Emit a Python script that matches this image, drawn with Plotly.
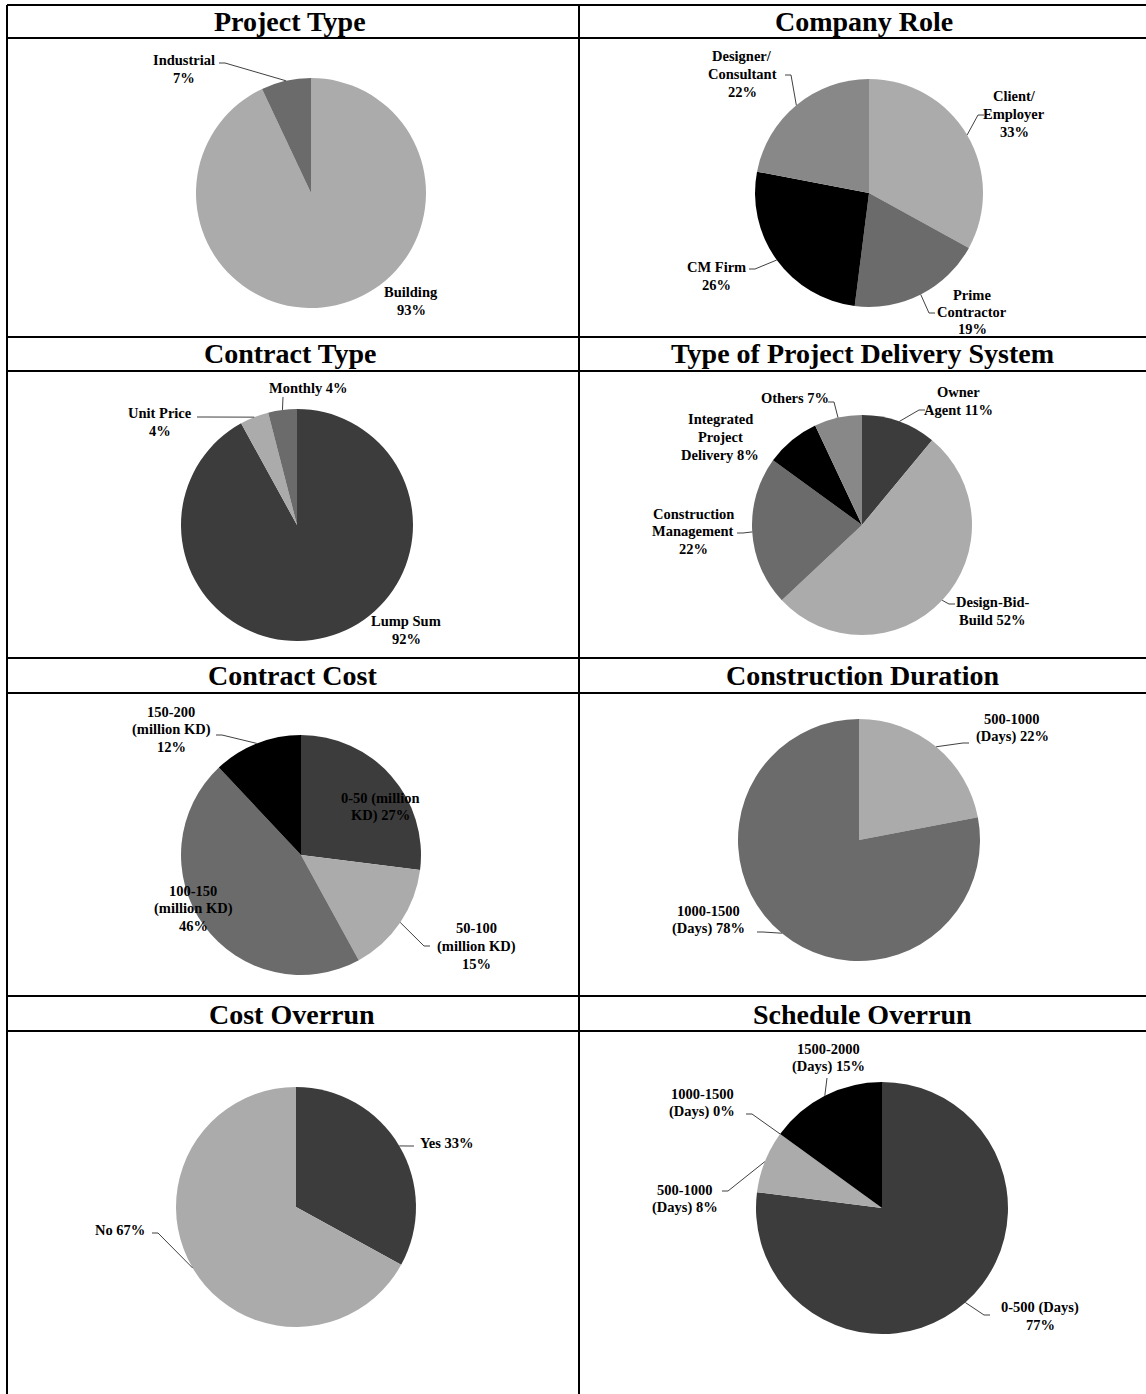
import math
import plotly.graph_objects as go

W, H = 1146, 1394

# ---------------- data ----------------
pt_labels = ["Building", "Industrial"]
pt_values = [93, 7]

cr_labels = ["Client/ Employer", "Prime Contractor", "CM Firm", "Designer/ Consultant"]
cr_values = [33, 19, 26, 22]

ct_labels = ["Lump Sum", "Unit Price", "Monthly"]
ct_values = [92, 4, 4]

pd_labels = ["Owner Agent", "Design-Bid-Build", "Construction Management",
             "Integrated Project Delivery", "Others"]
pd_values = [11, 52, 22, 8, 7]

cc_labels = ["0-50 (million KD)", "50-100 (million KD)", "100-150 (million KD)", "150-200 (million KD)"]
cc_values = [27, 15, 46, 12]

cd_labels = ["500-1000 (Days)", "1000-1500 (Days)"]
cd_values = [22, 78]

co_labels = ["Yes", "No"]
co_values = [33, 67]

so_labels = ["0-500 (Days)", "500-1000 (Days)", "1000-1500 (Days)", "1500-2000 (Days)"]
so_values = [77, 8, 0, 15]

titles = ["Project Type", "Company Role", "Contract Type", "Type of Project Delivery System",
          "Contract Cost", "Construction Duration", "Cost Overrun", "Schedule Overrun"]

# ---------------- styles / layout ----------------
LIGHT, MID, DARK, BLACK, GREY = "#ABABAB", "#6B6B6B", "#3C3C3C", "#000000", "#888888"

pies = [
    dict(labels=pt_labels, values=pt_values, colors=[LIGHT, MID], c=(311, 193), r=115,
         texts=[("Building<br>{v}%", 411, 301, None),
                ("Industrial<br>{v}%", 184, 69, (219, 63))]),
    dict(labels=cr_labels, values=cr_values, colors=[LIGHT, MID, BLACK, GREY], c=(869, 193), r=114,
         texts=[("Client/<br>Employer<br>{v}%", 1014, 114, (984, 115)),
                ("Prime<br>Contractor<br>{v}%", 972, 312, (935, 313)),
                ("CM Firm<br>{v}%", 716, 276, (749, 269)),
                ("Designer/<br>Consultant<br>{v}%", 742, 74, (785, 75))]),
    dict(labels=ct_labels, values=ct_values, colors=[DARK, LIGHT, MID], c=(297, 525), r=116,
         texts=[("Lump Sum<br>{v}%", 406, 630, None),
                ("Unit Price<br>{v}%", 160, 422, (197, 417)),
                ("Monthly {v}%", 308, 388, (283, 397))]),
    dict(labels=pd_labels, values=pd_values, colors=[DARK, LIGHT, MID, BLACK, GREY], c=(862, 525), r=110,
         texts=[("Owner<br>Agent {v}%", 958, 401, (925, 410)),
                ("Design-Bid-<br>Build {v}%", 992, 611, (955, 604)),
                ("Construction<br>Management<br>{v}%", 693, 531, (737, 533)),
                ("Integrated<br>Project<br>Delivery {v}%", 720, 437, None),
                ("Others {v}%", 795, 398, (828, 402))]),
    dict(labels=cc_labels, values=cc_values, colors=[DARK, LIGHT, MID, BLACK], c=(301, 855), r=120,
         texts=[("0-50 (million<br>KD) {v}%", 380, 807, None),
                ("50-100<br>(million KD)<br>{v}%", 476, 946, (430, 946)),
                ("100-150<br>(million KD)<br>{v}%", 193, 908, None),
                ("150-200<br>(million KD)<br>{v}%", 171, 729, (216, 735))]),
    dict(labels=cd_labels, values=cd_values, colors=[LIGHT, MID], c=(859, 840), r=121,
         texts=[("500-1000<br>(Days) {v}%", 1012, 728, (969, 743)),
                ("1000-1500<br>(Days) {v}%", 708, 920, (757, 932))]),
    dict(labels=co_labels, values=co_values, colors=[DARK, LIGHT], c=(296, 1207), r=120,
         texts=[("Yes {v}%", 447, 1143, (414, 1146)),
                ("No {v}%", 120, 1230, (152, 1233))]),
    dict(labels=so_labels, values=so_values, colors=[DARK, LIGHT, MID, BLACK], c=(882, 1208), r=126,
         texts=[("0-500 (Days)<br>{v}%", 1040, 1316, (990, 1315)),
                ("500-1000<br>(Days) {v}%", 685, 1199, (722, 1191)),
                ("1000-1500<br>(Days) {v}%", 702, 1103, (746, 1114)),
                ("1500-2000<br>(Days) {v}%", 828, 1058, (827, 1078))]),
]

title_pos = [(290, 22), (864, 22), (290, 354), (862, 354),
             (292, 676), (862, 676), (292, 1014), (862, 1014)]

col_x = [7, 579]
row_y = [5, 38, 337, 371, 658, 693, 996, 1031]

FONT = "Liberation Serif, Times New Roman, serif"
LINE_GAP = 17.5


def px(x):
    return x / W


def py(y):
    return 1 - y / H


fig = go.Figure()
annotations = []
shapes = []

for p in pies:
    cx, cy = p["c"]
    r = p["r"]
    fig.add_trace(go.Pie(
        labels=p["labels"], values=p["values"], sort=False, direction="clockwise", rotation=0,
        marker=dict(colors=p["colors"], line=dict(width=0)),
        textinfo="none", hoverinfo="label+percent", showlegend=False,
        domain=dict(x=[px(cx - r), px(cx + r)], y=[py(cy + r), py(cy - r)]),
    ))
    total = sum(p["values"])
    cum = 0
    for v, (tmpl, tx, ty, att) in zip(p["values"], p["texts"]):
        mid = (cum + v / 2) / total * 2 * math.pi
        cum += v
        lines = tmpl.format(v=v).split("<br>")
        n = len(lines)
        for i, line in enumerate(lines):
            ly = ty + (i - (n - 1) / 2) * LINE_GAP
            annotations.append(dict(
                x=px(tx), y=py(ly), xref="paper", yref="paper", showarrow=False,
                text=line, xanchor="center", yanchor="middle",
                font=dict(family=FONT, size=14.5, color="black", weight="bold"),
            ))
        if att is not None:
            ex = cx + r * math.sin(mid)
            ey = cy - r * math.cos(mid)
            ax, ay = att
            dx = ex - ax
            kx = ax + (6 if dx > 0 else -6) if abs(dx) > 8 else ax
            path = f"M {px(ax)} {py(ay)} L {px(kx)} {py(ay)} L {px(ex)} {py(ey)}"
            shapes.append(dict(type="path", xref="paper", yref="paper", path=path,
                               line=dict(color="#404040", width=1)))

for t, (tx, ty) in zip(titles, title_pos):
    annotations.append(dict(
        x=px(tx), y=py(ty), xref="paper", yref="paper", showarrow=False, text=t,
        xanchor="center", yanchor="middle",
        font=dict(family=FONT, size=28, color="black", weight="bold"),
    ))

for x in col_x:
    shapes.append(dict(type="line", xref="paper", yref="paper", x0=px(x), x1=px(x),
                       y0=py(row_y[0]), y1=0, line=dict(color="black", width=2)))
for y in row_y:
    shapes.append(dict(type="line", xref="paper", yref="paper", x0=px(col_x[0]), x1=1,
                       y0=py(y), y1=py(y), line=dict(color="black", width=2)))

fig.update_layout(
    width=W, height=H, margin=dict(l=0, r=0, t=0, b=0),
    paper_bgcolor="white", plot_bgcolor="white",
    annotations=annotations, shapes=shapes,
)

fig.write_html("out.html")
